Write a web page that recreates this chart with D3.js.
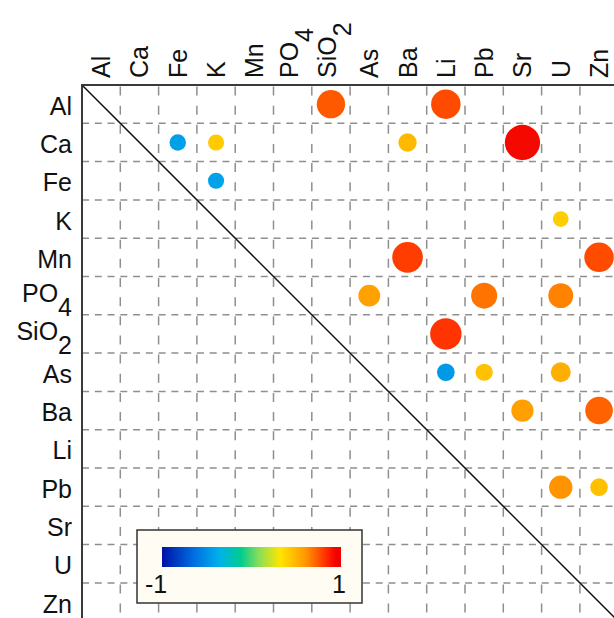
<!DOCTYPE html>
<html>
<head>
<meta charset="utf-8">
<script src="https://cdn.jsdelivr.net/npm/d3@7"></script>
<style>
  html, body { margin: 0; padding: 0; background: #fff; }
  svg { display: block; }
  text { font-family: "Liberation Sans", Arial, Helvetica, sans-serif; fill: #111; }
</style>
</head>
<body>
<div id="chart"></div>
<script>
// ---- data ----
const variables = ["Al","Ca","Fe","K","Mn","PO4","SiO2","As","Ba","Li","Pb","Sr","U","Zn"];
const labelBase = ["Al","Ca","Fe","K","Mn","PO","SiO","As","Ba","Li","Pb","Sr","U","Zn"];
const labelSub  = ["","","","","","4","2","","","","","","",""];

const pairRow = ["Al","Al","Ca","Ca","Ca","Ca","Fe","K","Mn","Mn","PO4","PO4","PO4","SiO2","As","As","As","Ba","Ba","Pb","Pb"];
const pairCol = ["SiO2","Li","Fe","K","Ba","Sr","K","U","Ba","Zn","As","Pb","U","Li","Li","Pb","U","Sr","Zn","U","Zn"];
const pairR   = [0.74,0.77,-0.43,0.42,0.48,0.92,-0.42,0.41,0.80,0.77,0.57,0.68,0.65,0.82,-0.46,0.45,0.52,0.58,0.72,0.61,0.46];

const colorStops  = [-1, -0.64, -0.36, -0.12, 0.08, 0.32, 0.60, 0.86, 0.94, 1];
const colorValues = ["#0010a8","#0070e0","#00b0ec","#00cc90","#88dd5a","#ffe600","#ff9900","#ff2200","#f00000","#f00000"];
const legendTicks = ["-1","1"];

(function () {
// ---- layout ----
const W = 614, H = 618;
const plotLeft = 82, plotTop = 85, cell = 38.3;
const n = variables.length;

const svg = d3.select("#chart").append("svg").attr("width", W).attr("height", H);

const x = d3.scaleBand().domain(variables).range([plotLeft, plotLeft + n * cell]);
const y = d3.scaleBand().domain(variables).range([plotTop, plotTop + n * cell]);
const rScale = d3.scaleLinear().domain([0, 1]).range([0, cell / 2]);
const color = d3.scaleLinear().domain(colorStops).range(colorValues).interpolate(d3.interpolateRgb);

const x0 = plotLeft, x1 = plotLeft + n * cell, y0 = plotTop, y1 = plotTop + n * cell;

// grid lines
const g = svg.append("g");
const bounds = d3.range(1, n);
g.selectAll("line.h").data(bounds).join("line")
  .attr("x1", x0).attr("x2", x1)
  .attr("y1", i => y0 + i * cell).attr("y2", i => y0 + i * cell)
  .attr("stroke", "#8f8f8f").attr("stroke-width", 1.5)
  .attr("stroke-dasharray", "7,5.77");
g.selectAll("line.v").data(bounds).join("line")
  .attr("y1", y0).attr("y2", y1)
  .attr("x1", i => x0 + i * cell).attr("x2", i => x0 + i * cell)
  .attr("stroke", "#8f8f8f").attr("stroke-width", 1.5)
  .attr("stroke-dasharray", "9,10.15").attr("stroke-dashoffset", -1.5);

// diagonal
svg.append("line").attr("x1", x0).attr("y1", y0).attr("x2", x1).attr("y2", y1)
  .attr("stroke", "#111").attr("stroke-width", 1.5);

// circles
const pairs = pairR.map((r, i) => ({row: pairRow[i], col: pairCol[i], r}));
svg.append("g").selectAll("circle").data(pairs).join("circle")
  .attr("cx", d => x(d.col) + x.bandwidth() / 2)
  .attr("cy", d => y(d.row) + y.bandwidth() / 2)
  .attr("r", d => rScale(Math.abs(d.r)))
  .attr("fill", d => color(d.r));

// borders
svg.append("line").attr("x1", x0 - 1).attr("x2", x1).attr("y1", y0).attr("y2", y0)
  .attr("stroke", "#3a3a3a").attr("stroke-width", 2);
svg.append("line").attr("x1", x0).attr("x2", x0).attr("y1", y0).attr("y2", y1)
  .attr("stroke", "#3a3a3a").attr("stroke-width", 2);

// row labels
const fs = 25;
variables.forEach((v, i) => {
  const cy = y(v) + y.bandwidth() / 2;
  const hasSub = labelSub[i] !== "";
  const t = svg.append("text")
    .attr("x", 72).attr("y", cy + (hasSub ? 6 : 10.5))
    .attr("text-anchor", "end").attr("font-size", fs);
  t.append("tspan").text(labelBase[i]);
  if (hasSub) t.append("tspan").attr("dy", 14).text(labelSub[i]);
});

// column labels
variables.forEach((v, i) => {
  const cx = x(v) + x.bandwidth() / 2;
  const hasSub = labelSub[i] !== "";
  const t = svg.append("text")
    .attr("transform", `translate(${cx + (hasSub ? 5 : 9)},78) rotate(-90)`)
    .attr("text-anchor", "start").attr("font-size", fs);
  t.append("tspan").text(labelBase[i]);
  if (hasSub) t.append("tspan").attr("dy", 15).text(labelSub[i]);
});

// legend box with colorbar
const lg = svg.append("g");
lg.append("rect").attr("x", 137).attr("y", 530).attr("width", 225).attr("height", 73)
  .attr("fill", "#fffdf3").attr("stroke", "#333").attr("stroke-width", 1.5);

const defs = svg.append("defs");
const grad = defs.append("linearGradient").attr("id", "cbar")
  .attr("x1", "0%").attr("x2", "100%").attr("y1", "0%").attr("y2", "0%");
d3.range(0, 1.0001, 0.02).forEach(t => {
  grad.append("stop").attr("offset", (t * 100) + "%").attr("stop-color", color(-1 + 2 * t));
});
const cb = d3.scaleLinear().domain([-1, 1]).range([162, 341]);
lg.append("rect").attr("x", cb(-1)).attr("y", 547).attr("width", cb(1) - cb(-1)).attr("height", 20)
  .attr("fill", "url(#cbar)");
lg.append("text").attr("x", 145).attr("y", 593).attr("font-size", 25).attr("text-anchor", "start").text(legendTicks[0]);
lg.append("text").attr("x", 346).attr("y", 593).attr("font-size", 25).attr("text-anchor", "end").text(legendTicks[1]);
})();
</script>
</body>
</html>
